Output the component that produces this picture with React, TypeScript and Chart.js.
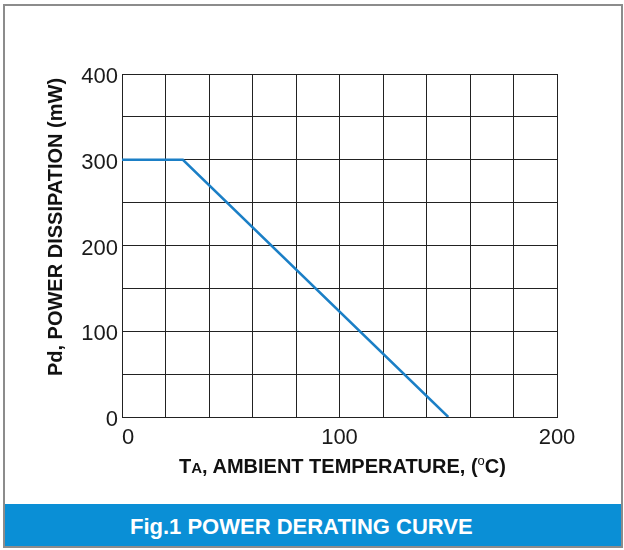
import React, { useEffect, useRef } from "react";
import { Chart, registerables } from "chart.js";

Chart.register(...registerables);

// Data
const curveTemps = [0, 28, 150];
const curvePower = [300, 300, 0];
const xTickValues = [0, 100, 200];
const xTickLabels = ["0", "100", "200"];
const yTickValues = [0, 100, 200, 300, 400];
const yTickLabels = ["0", "100", "200", "300", "400"];

const FONT = "'Liberation Sans', Arial, sans-serif";

export default function App() {
  const canvasRef = useRef<HTMLCanvasElement | null>(null);

  useEffect(() => {
    const canvas = canvasRef.current;
    if (!canvas) return;
    const points = curveTemps.map((t, i) => ({ x: t, y: curvePower[i] }));
    const chart = new Chart(canvas, {
      type: "line",
      data: {
        datasets: [
          {
            data: points,
            borderColor: "#1b7fc6",
            borderWidth: 2.5,
            pointRadius: 0,
            tension: 0,
            fill: false,
          },
        ],
      },
      options: {
        animation: false,
        responsive: false,
        maintainAspectRatio: false,
        layout: { padding: { top: 74, right: 67, left: 0, bottom: 0 } },
        plugins: { legend: { display: false }, tooltip: { enabled: false } },
        scales: {
          x: {
            type: "linear",
            min: 0,
            max: 200,
            afterFit: (s: any) => {
              s.height = 83;
            },
            ticks: {
              stepSize: 20,
              autoSkip: false,
              maxRotation: 0,
              padding: 8,
              color: "#1a1a1a",
              font: { family: FONT, size: 22 },
              callback: (v: any) => {
                const idx = xTickValues.indexOf(Number(v));
                if (idx < 0) return "";
                return idx === 0 ? "  " + xTickLabels[idx] : xTickLabels[idx];
              },
            },
            grid: { color: "#222", lineWidth: 1, drawTicks: false },
            border: { display: true, color: "#222", width: 1 },
          },
          y: {
            type: "linear",
            min: 0,
            max: 400,
            afterFit: (s: any) => {
              s.width = 122;
            },
            ticks: {
              stepSize: 50,
              autoSkip: false,
              padding: 4,
              labelOffset: 3,
              color: "#1a1a1a",
              font: { family: FONT, size: 22 },
              callback: (v: any) => {
                const idx = yTickValues.indexOf(Number(v));
                return idx < 0 ? "" : yTickLabels[idx];
              },
            },
            grid: { color: "#222", lineWidth: 1, drawTicks: false },
            border: { display: true, color: "#222", width: 1 },
          },
        },
      },
    });
    return () => chart.destroy();
  }, []);

  return (
    <div
      style={{
        position: "fixed",
        left: 0,
        top: 0,
        width: 624,
        height: 550,
        background: "#fff",
        overflow: "hidden",
        fontFamily: FONT,
      }}
    >
      <div
        style={{
          position: "absolute",
          left: 3,
          top: 4,
          width: 620,
          height: 544,
          boxSizing: "border-box",
          border: "2px solid #8c8c8c",
        }}
      />
      <canvas
        ref={canvasRef}
        width={624}
        height={500}
        style={{ position: "absolute", left: 0, top: 0, width: 624, height: 500 }}
      />
      <div
        style={{
          position: "absolute",
          left: -105,
          top: 216.5,
          width: 320,
          height: 20,
          lineHeight: "20px",
          fontSize: 20,
          fontWeight: "bold",
          color: "#111",
          textAlign: "center",
          whiteSpace: "nowrap",
          transform: "rotate(-90deg)",
        }}
      >
        Pd, POWER DISSIPATION (mW)
      </div>
      <div
        style={{
          position: "absolute",
          left: 179,
          top: 455.5,
          lineHeight: "20px",
          fontSize: 20,
          fontWeight: "bold",
          color: "#111",
          whiteSpace: "nowrap",
        }}
      >
        T<span style={{ fontSize: 15 }}>A</span>, AMBIENT TEMPERATURE, (
        <span style={{ fontSize: 13, fontWeight: "normal", position: "relative", top: -8 }}>o</span>
        C)
      </div>
      <div
        style={{
          position: "absolute",
          left: 5,
          top: 504,
          width: 616,
          height: 42,
          background: "#0a8fd6",
        }}
      />
      <div
        style={{
          position: "absolute",
          left: 130,
          top: 515.5,
          lineHeight: "22px",
          fontSize: 22,
          fontWeight: "bold",
          color: "#fff",
          whiteSpace: "nowrap",
        }}
      >
        Fig.1 POWER DERATING CURVE
      </div>
    </div>
  );
}
